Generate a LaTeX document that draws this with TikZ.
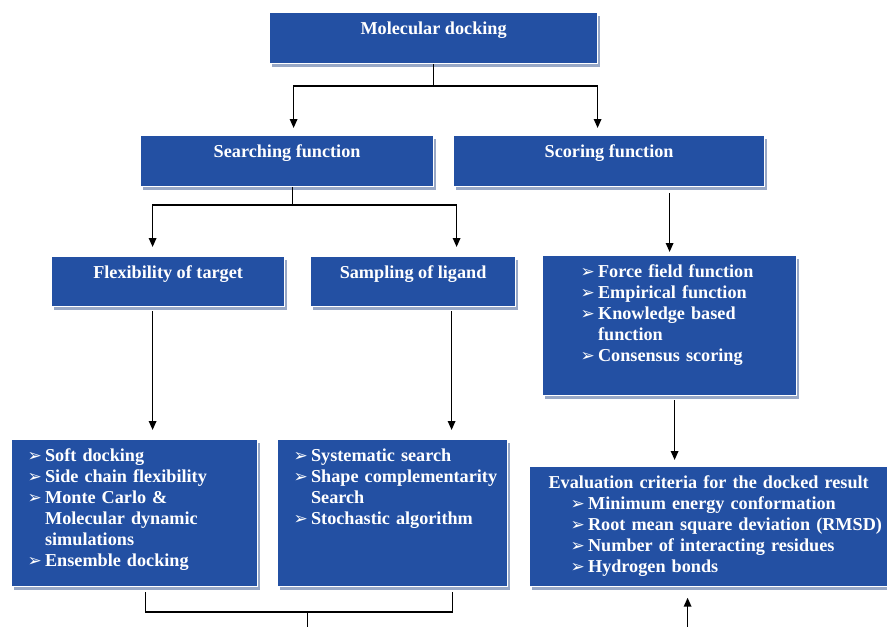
\documentclass[tikz,border=0pt]{standalone}
\usepackage{fontspec}
\setmainfont{Liberation Serif}
\newfontfamily\dingfont{DejaVu Sans}
\usetikzlibrary{arrows.meta,shadows}
\definecolor{boxblue}{RGB}{35,80,163}
\definecolor{shadeblue}{RGB}{152,168,198}
\newcommand\bul{{\dingfont\fontsize{17}{21}\selectfont ➢}}
\newcommand\itm[1]{\makebox[17.5pt][l]{\bul}#1}
\newcommand\cnt{\hspace*{17.5pt}}
\tikzset{
  blk/.style={fill=boxblue, draw=white, line width=1.2pt, text=white, anchor=north west,
    inner sep=0pt, text height=22pt, font=\bfseries\fontsize{18.2}{21}\selectfont,
    drop shadow={shadow xshift=2.5pt, shadow yshift=-3.5pt, fill=shadeblue, opacity=1}},
  ttl/.style 2 args={blk, minimum width=#1, text depth=#2},
  lst/.style n args={3}{blk, text width=#1, text depth=#2, align=left,
    execute at begin node={\leftskip=#3\relax}},
  ln/.style={draw, line width=1.6pt},
  arr/.style={ln, -{Triangle[length=9pt,width=7.5pt]}},
}
\begin{document}
\begin{tikzpicture}[x=1pt,y=-1pt]
    \useasboundingbox (0,0) rectangle (887,627);
    % Boxes
    \node[ttl={328pt}{29pt}] (dock) at (269,12) {Molecular docking};
    \node[ttl={293pt}{29pt}] (search) at (140,135) {Searching function};
    \node[ttl={311pt}{29pt}] (score) at (453,135) {Scoring function};
    \node[ttl={233pt}{28pt}] (flex) at (51,256) {Flexibility of target};
    \node[ttl={205pt}{28pt}] (samp) at (310,256) {Sampling of ligand};
    \node[lst={254pt}{118pt}{38pt}] (scorelist) at (542,255)
        {\itm{Force field function}\\\itm{Empirical function}\\\itm{Knowledge based}\\\cnt function\\\itm{Consensus scoring}};
    \node[lst={246pt}{125pt}{16pt}] (soft) at (11,439)
        {\itm{Soft docking}\\\itm{Side chain flexibility}\\\itm{Monte Carlo \&}\\\cnt Molecular dynamic\\\cnt simulations\\\itm{Ensemble docking}};
    \node[lst={230pt}{125pt}{16pt}] (syst) at (277,439)
        {\itm{Systematic search}\\\itm{Shape complementarity}\\\cnt Search\\\itm{Stochastic algorithm}};
    \node[lst={364pt}{98pt}{19pt}] (eval) at (529,466)
        {Evaluation criteria for the docked result\\
         \hspace*{22pt}\itm{Minimum energy conformation}\\\hspace*{22pt}\itm{Root mean square deviation (RMSD)}\\
         \hspace*{22pt}\itm{Number of interacting residues}\\\hspace*{22pt}\itm{Hydrogen bonds}};
    % Connectors
    \draw[ln] (dock.south) -- ++(0,22) coordinate (j1);
    \draw[arr, shorten >=7pt] (j1) -| ([xshift=6.5pt]search.north);
    \draw[arr, shorten >=7pt] (j1) -| ([xshift=-11.5pt]score.north);
    \draw[ln] ([xshift=5.5pt]search.south) -- ++(0,18) coordinate (j2);
    \draw[arr, shorten >=9pt] (j2) -| ([xshift=-15.5pt]flex.north);
    \draw[arr, shorten >=9pt] (j2) -| ([xshift=43.5pt]samp.north);
    \draw[arr, shorten <=6pt, shorten >=3pt] (score.south -| scorelist.north) -- (scorelist.north);
    \coordinate (f1) at ([xshift=-15.5pt]flex.south);
    \draw[arr, shorten <=4pt, shorten >=9pt] (f1) -- (f1 |- soft.north);
    \coordinate (s1) at ([xshift=38.5pt]samp.south);
    \draw[arr, shorten <=4pt, shorten >=9pt] (s1) -- (s1 |- syst.north);
    \coordinate (c1) at ([xshift=5pt]scorelist.south);
    \draw[arr, shorten <=4pt, shorten >=6pt] (c1) -- (c1 |- eval.north);
    \draw[ln, shorten <=5pt, shorten >=5pt] ([xshift=11pt]soft.south) -- ++(0,25) coordinate (j3) -| ([xshift=60pt]syst.south);
    \path (j3) -- ++(162,0) coordinate (j4);
    \draw[ln] (j4) -- ++(0,20) coordinate (bot1);
    \coordinate (bot2) at ([xshift=-24pt,yshift=-46pt]eval.south);
    \draw[arr, shorten >=10.5pt] (bot2) -- (bot2 |- eval.south);
\end{tikzpicture}
\end{document}
